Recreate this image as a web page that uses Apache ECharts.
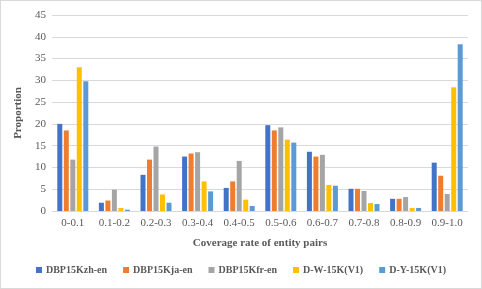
<!DOCTYPE html>
<html><head><meta charset="utf-8">
<script src="https://cdn.jsdelivr.net/npm/echarts@6/dist/echarts.min.js"></script>
<style>html,body{margin:0;padding:0;background:#fff}#c{width:480px;height:287px;border:1px solid #d9d9d9}</style>
</head><body><div id="c"></div>
<script>
const categories = ['0-0.1','0.1-0.2','0.2-0.3','0.3-0.4','0.4-0.5','0.5-0.6','0.6-0.7','0.7-0.8','0.8-0.9','0.9-1.0'];
const seriesNames = ['DBP15Kzh-en','DBP15Kja-en','DBP15Kfr-en','D-W-15K(V1)','D-Y-15K(V1)'];
const zhEn = [20.0, 1.9, 8.3, 12.5, 5.3, 19.7, 13.6, 5.1, 2.8, 11.1];
const jaEn = [18.5, 2.4, 11.8, 13.2, 6.8, 18.5, 12.5, 5.1, 2.8, 8.1];
const frEn = [11.8, 4.9, 14.8, 13.5, 11.5, 19.2, 12.9, 4.6, 3.2, 3.9];
const dw15k = [33.0, 0.7, 3.8, 6.8, 2.6, 16.4, 6.0, 1.85, 0.7, 28.4];
const dy15k = [29.8, 0.3, 1.9, 4.5, 1.15, 15.7, 5.8, 1.6, 0.7, 38.3];
const colors = ['#4472C4','#ED7D31','#A5A5A5','#FFC000','#5B9BD5'];
const allData = [zhEn, jaEn, frEn, dw15k, dy15k];
const font = 'Liberation Serif';
const chart = echarts.init(document.getElementById('c'));
chart.setOption({
  animation: false,
  color: colors,
  grid: {left: 51, right: 13, top: 14, bottom: 77},
  legend: {
    bottom: 8, left: 'center', itemWidth: 6, itemHeight: 6, itemGap: 16, icon: 'rect',
    textStyle: {fontFamily: font, fontSize: 10, color: '#595959', fontWeight: 'bold', padding: [0, 0, 0, -1]},
    data: seriesNames
  },
  xAxis: {
    type: 'category', data: categories,
    name: 'Coverage rate of entity pairs', nameLocation: 'middle', nameGap: 27,
    nameTextStyle: {fontFamily: font, fontSize: 11, fontWeight: 'bold', color: '#595959'},
    axisLine: {show: true, lineStyle: {color: '#d9d9d9'}},
    axisTick: {show: false},
    axisLabel: {fontFamily: font, fontSize: 11, color: '#595959', margin: 7}
  },
  yAxis: {
    type: 'value', min: 0, max: 45, interval: 5,
    name: 'Proportion', nameLocation: 'middle', nameGap: 20,
    nameTextStyle: {fontFamily: font, fontSize: 11, fontWeight: 'bold', color: '#595959'},
    axisLine: {show: false}, axisTick: {show: false},
    axisLabel: {fontFamily: font, fontSize: 11, color: '#595959', margin: 6},
    splitLine: {lineStyle: {color: '#d9d9d9'}}
  },
  series: seriesNames.map((n, i) => ({
    name: n, type: 'bar', data: allData[i], barWidth: 5, barGap: '30%'
  }))
});
</script></body></html>
